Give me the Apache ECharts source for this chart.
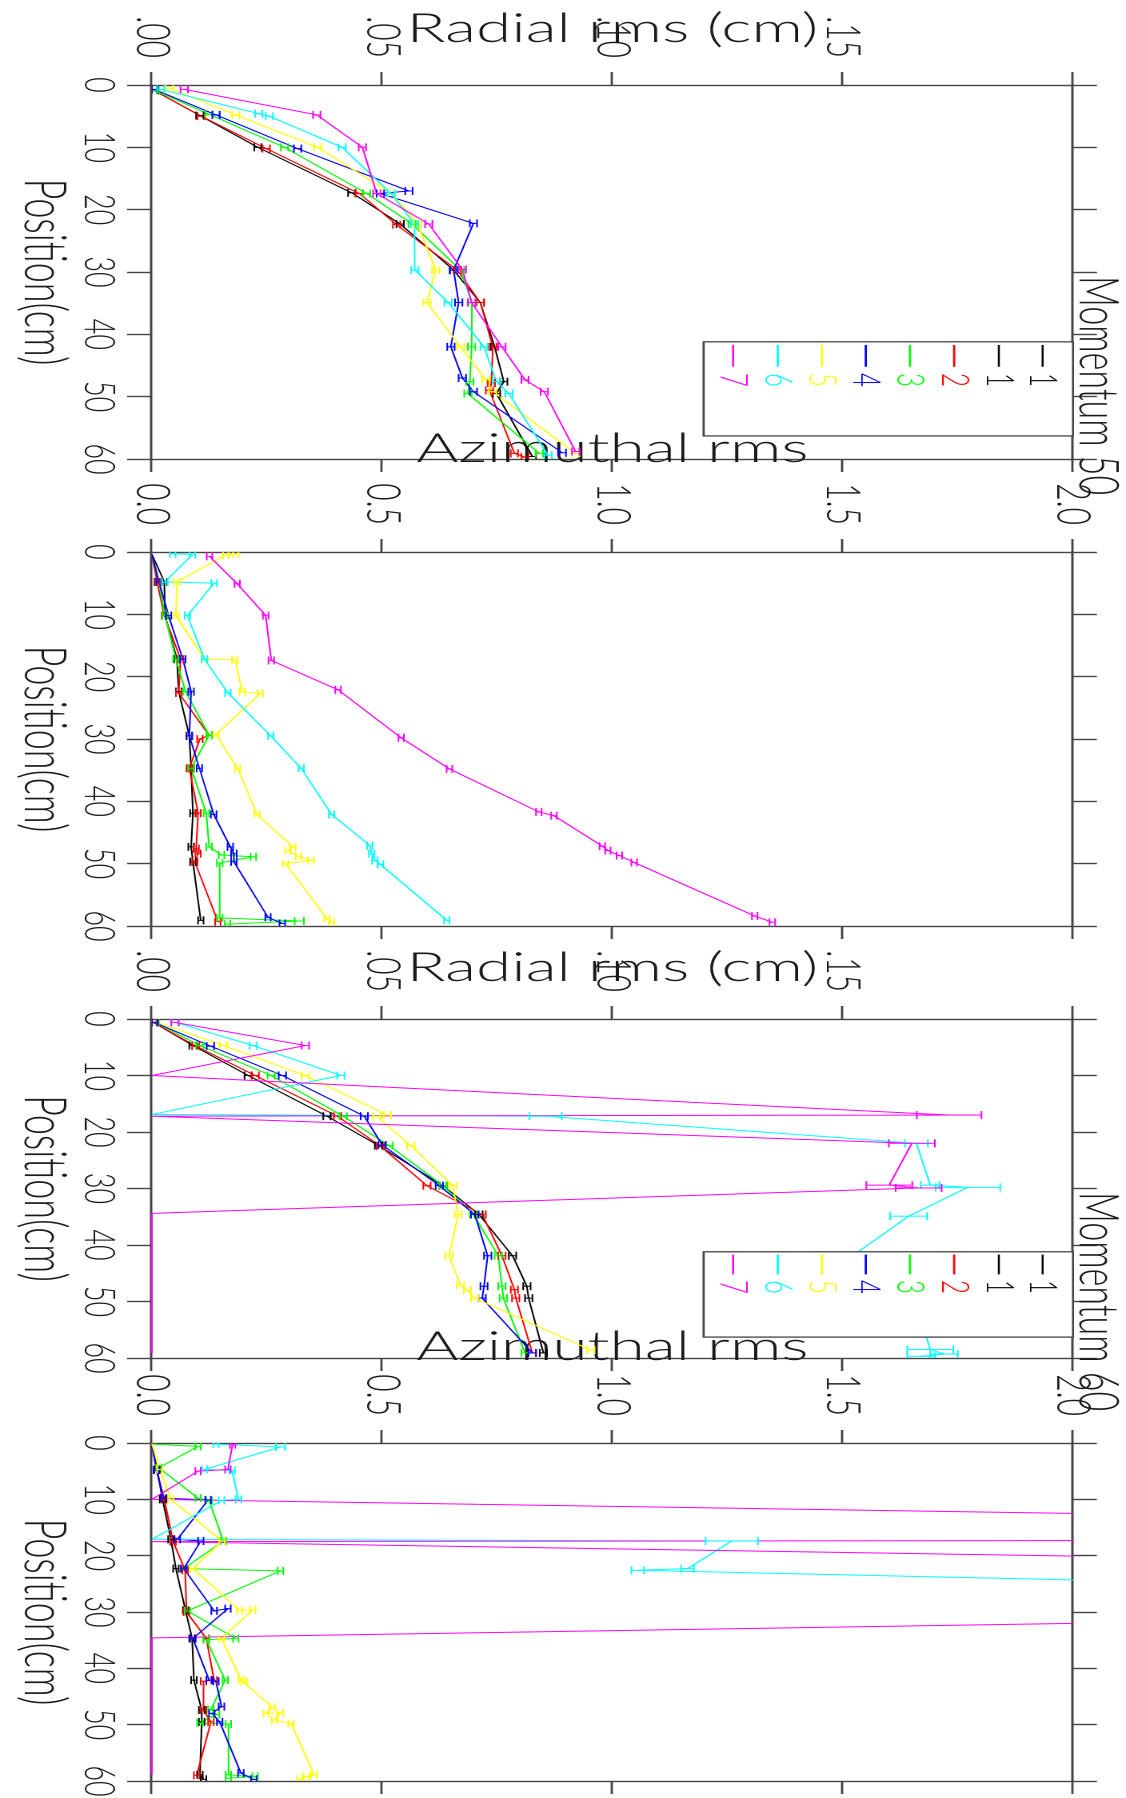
<!DOCTYPE html>
<html><head><meta charset="utf-8">
<script src="https://cdn.jsdelivr.net/npm/echarts@6/dist/echarts.min.js"></script>
<style>
html,body{margin:0;padding:0;width:1126px;height:1798px;overflow:hidden;background:#fff;}
#chart{position:absolute;left:0;top:0;width:1798px;height:704px;transform-origin:0 0;transform:translate(1126px,0) rotate(90deg) scale(1,1.59943);}
</style></head><body><div id="chart"></div>
<script>
// ---------------- labels / categories ----------------
const seriesNames = ['1', '2', '3', '4', '5', '6', '7'];
const seriesColors = ['#000000', '#ff0000', '#00ff00', '#0000ff', '#ffff00', '#00ffff', '#ff00ff'];
const legendLabels = ['1', '1', '2', '3', '4', '5', '6', '7'];
const legendColors = ['#000000', '#000000', '#ff0000', '#00ff00', '#0000ff', '#ffff00', '#00ffff', '#ff00ff'];
const positionTicks = [0, 10, 20, 30, 40, 50, 60];
const rmsTickLabelsRadial = ['.00', '.05', '.10', '.15', ''];
const rmsTickLabelsAzimuthal = ['0.0', '0.5', '1.0', '1.5', '2.0'];
const panelTitles = ['Radial rms (cm)', 'Azimuthal rms', 'Radial rms (cm)', 'Azimuthal rms'];
const momentumTitles = ['Momentum 50', 'Momentum 60'];
const positionTitle = 'Position(cm)';

// ---------------- data: [position (cm), rms, error] ----------------
// Panel 1: Radial rms, momentum 50
const rad50_1 = [[0.8,0.003],[4.9,0.104],[10,0.23],[17.3,0.434],[22.3,0.539],[29.7,0.655],[34.9,0.713],[42,0.744],[47.6,0.764],[49.5,0.748],[59.6,0.826]];
const rad50_2 = [[0.9,0.005],[5,0.107],[10.2,0.248],[17.4,0.45],[22.4,0.531],[29.7,0.663],[34.9,0.713],[42,0.74],[47.8,0.737],[49,0.733],[59.1,0.787],[59.7,0.81]];
const rad50_3 = [[0.9,0.007],[4.7,0.124],[10,0.288],[17.4,0.466],[22.3,0.565],[29.7,0.67],[34.9,0.695],[42,0.694],[47.6,0.69],[49.5,0.686],[59.1,0.841]];
const rad50_4 = [[0.7,0.005],[4.8,0.139],[10.2,0.316],[17,0.558],[17.4,0.496],[22.2,0.698],[29.7,0.655],[34.9,0.666],[42,0.649],[47,0.674],[49.2,0.698],[59,0.891]];
const rad50_5 = [[0.5,0.038],[4.8,0.182],[10,0.36],[17.4,0.52],[22.3,0.577],[29.7,0.616],[34.9,0.597],[42,0.67],[47.3,0.725],[49.2,0.74],[59.1,0.92]];
const rad50_6 = [[0.7,0.019],[4.6,0.232],[5,0.255],[10,0.413],[17.4,0.519],[22.3,0.57],[29.7,0.571],[34.9,0.643],[42,0.721],[47.6,0.748],[49.5,0.775],[59.4,0.86]];
const rad50_7 = [[0.7,0.07],[4.8,0.358],[10,0.457],[17.4,0.488],[22.3,0.601],[29.6,0.674],[34.9,0.694],[42,0.76],[47.3,0.81],[49.2,0.852],[58.8,0.92]];
// Panel 2: Azimuthal rms, momentum 50
const azi50_1 = [[0.4,0],[4.8,0.027],[10.2,0.028],[17.2,0.054],[22.4,0.058],[29.5,0.081],[34.7,0.085],[41.9,0.089],[47.3,0.085],[49.7,0.089],[59.1,0.106]];
const azi50_2 = [[0.4,0],[4.8,0.011],[10.2,0.027],[17.2,0.062],[22.6,0.058],[29.4,0.124],[30,0.104],[34.7,0.081],[41.9,0.1],[47.6,0.096],[48.4,0.1],[49.7,0.093],[59.3,0.143]];
const azi50_3 = [[0.4,0],[4.8,0.015],[10.2,0.028],[17.2,0.052],[22.4,0.073],[29.4,0.124],[34.7,0.085],[41.9,0.118],[47.3,0.124],[48.6,0.151],[48.9,0.22],[49.9,0.147],[58.7,0.147],[59.2,0.32,0.01],[59.7,0.164]];
const azi50_4 = [[0.4,0],[4.8,0.015],[10.2,0.036],[17.2,0.067],[22.4,0.085],[29.5,0.081],[34.7,0.103],[42.1,0.134],[47.3,0.17],[48.4,0.178],[49.7,0.178],[58.6,0.252],[59.6,0.283]];
const azi50_5 = [[0.3,0.182],[0.5,0.16],[4.8,0.054],[10.2,0.052],[17.2,0.114],[17.3,0.18],[22.4,0.196],[22.7,0.235],[29.3,0.139],[34.7,0.186],[42.1,0.228],[47.3,0.306],[47.9,0.295],[48.8,0.318],[49.5,0.345],[50,0.29],[58.8,0.38],[59.4,0.39]];
const azi50_6 = [[0.3,0.045],[0.4,0.088],[4.8,0.028],[5,0.135],[10.2,0.077],[17.2,0.114],[22.6,0.165],[29.5,0.258],[34.7,0.324],[42.1,0.39],[47.1,0.473],[48.4,0.477],[49.5,0.484],[50.1,0.496],[59.1,0.64]];
const azi50_7 = [[0.7,0.125],[5.1,0.185],[10.2,0.247],[17.4,0.259],[22.1,0.404],[29.8,0.541],[34.8,0.646],[41.7,0.84],[42.3,0.873],[47.2,0.978],[47.9,0.99],[48.7,1.015],[49.8,1.047],[58.4,1.309],[59.4,1.347]];
// Panel 3: Radial rms, momentum 60
const rad60_1 = [[0.6,0.003],[4.7,0.089],[10,0.209],[17.2,0.38],[22.4,0.492],[29.5,0.632],[34.6,0.71],[41.9,0.783],[47.3,0.814],[49.4,0.818],[59.1,0.85]];
const rad60_2 = [[0.6,0.003],[4.8,0.095],[10,0.224],[17.2,0.403],[22.5,0.496],[29.5,0.597],[34.6,0.717],[41.9,0.76],[47.9,0.787],[49.4,0.79],[59.1,0.826]];
const rad60_3 = [[0.6,0.007],[4.7,0.104],[10,0.259],[17.2,0.415],[22.4,0.515],[29.5,0.632],[34.6,0.698],[41.9,0.752],[47.3,0.76],[49.4,0.763],[59.1,0.81]];
const rad60_4 = [[0.6,0.005],[4.8,0.127],[10,0.283],[17.2,0.461],[22.3,0.5],[29.5,0.624],[34.6,0.701],[41.9,0.729],[47.3,0.721],[49.4,0.717],[59.1,0.826]];
const rad60_5 = [[0.3,0],[4.7,0.155],[10,0.333],[17,0.511],[17.2,0.488],[22.4,0.562],[29.5,0.653],[34.6,0.665],[41.9,0.645],[47.1,0.67],[48,0.685],[49.4,0.701],[58.6,0.953]];
const rad60_6 = [[0.6,0.05],[4.7,0.22],[10,0.41],[16.9,0],[17.2,0.855,0.035],[22,1.66,0.025],[29.4,1.69,0.02],[29.8,1.772,0.07],[34.9,1.643,0.04],[42,1.52],[47.5,1.58],[49,1.62],[50.5,1.66],[58.5,1.69,0.05],[59.3,1.72,0.03],[59.7,1.67,0.03]];
const rad60_7 = [[0.6,0.05],[4.7,0.333],[10,0],[17,1.731,0.07],[17.2,0],[22,1.65,0.05],[29.4,1.601,0.05],[29.9,1.665,0.05],[34.4,0],[41.9,0],[47.3,0],[49.4,0],[59.1,0]];
// Panel 4: Azimuthal rms, momentum 60
const azi60_1 = [[0.4,0],[4.7,0.011],[10,0.023],[17.1,0.041],[22.3,0.052],[29.7,0.073],[34.7,0.087],[42.1,0.091],[47.4,0.108],[49.5,0.108],[58.9,0.104],[59.7,0.112]];
const azi60_2 = [[0.2,0],[4.8,0.01],[10,0.027],[17.5,0.046],[22.6,0.072],[30,0.075],[34.7,0.118],[42.1,0.135],[42.3,0.112],[47.4,0.112],[49.5,0.128],[59,0.097]];
const azi60_3 = [[0.2,0],[0.6,0.1],[4.4,0.015],[9.8,0.1],[10.2,0.124],[17.4,0.155],[22.3,0.069],[22.7,0.279],[29.8,0.077],[34.7,0.182],[34.9,0.118],[42.1,0.159],[47.3,0.128],[48.2,0.14],[49.7,0.104],[49.9,0.166],[58.9,0.166],[59.2,0.224],[59.5,0.166]];
const azi60_4 = [[0.2,0],[4.8,0.01],[9.8,0.025],[10.1,0.122],[17.1,0.055],[17.4,0.106],[22.3,0.069],[29.8,0.135],[29.4,0.165],[34.7,0.089],[42.1,0.124],[42.3,0.139],[46.8,0.151],[48,0.13],[49.5,0.147],[58.6,0.193],[59.7,0.221]];
const azi60_5 = [[0.1,0],[4.7,0.017],[10,0.041],[17.4,0.152],[22.3,0.089],[29.7,0.19],[29.6,0.219],[34.7,0.151],[42.1,0.194],[42.4,0.2],[46.9,0.261],[48,0.248],[47.9,0.279],[49.2,0.266],[49.8,0.302],[58.9,0.352],[59.2,0.335],[59.7,0.321]];
const azi60_6 = [[0.2,0.139],[0.7,0.279,0.01],[4.7,0.114],[4.9,0.174],[10,0.188],[10.2,0.151],[17.1,0],[17.4,1.259,0.057],[22.3,1.163,0.014],[22.6,1.055,0.014],[29.7,5.0]];
const azi60_7 = [[0.3,0.175],[4.7,0.165],[5,0.1],[10,0],[17,5.6],[17.5,0],[22,3.5],[29.7,3.8],[34.6,0],[42.1,0],[47.4,0],[49.5,0],[58.9,0]];

const panels = [
  [rad50_1, rad50_2, rad50_3, rad50_4, rad50_5, rad50_6, rad50_7],
  [azi50_1, azi50_2, azi50_3, azi50_4, azi50_5, azi50_6, azi50_7],
  [rad60_1, rad60_2, rad60_3, rad60_4, rad60_5, rad60_6, rad60_7],
  [azi60_1, azi60_2, azi60_3, azi60_4, azi60_5, azi60_6, azi60_7]
];
const panelTickLabels = [rmsTickLabelsRadial, rmsTickLabelsAzimuthal, rmsTickLabelsRadial, rmsTickLabelsAzimuthal];
const DEFAULT_ERR = [0.008, 0.006, 0.008, 0.006];

// ---------------- layout (pre-rotation frame) ----------------
const gridBoxes = [
  {left: 85, width: 374}, {left: 552, width: 374},
  {left: 1019, width: 339}, {left: 1443, width: 338}
];
const nameGaps = [36, 83, 31, 76];
const FONT = 'Lato';
const AX = '#444';
const TXT = '#1a1a1a';

const chart = echarts.init(document.getElementById('chart'), null, {renderer: 'canvas', devicePixelRatio: 2});

const grid = [], xAxis = [], yAxis = [], series = [];
gridBoxes.forEach((g, i) => {
  grid.push({left: g.left, width: g.width, top: 33.14, bottom: 95.03, containLabel: false, outerBoundsMode: 'none'});
  const axLine = {show: true, onZero: false, lineStyle: {color: AX, width: 1.4}};
  xAxis.push({
    gridIndex: i, type: 'value', min: 0, max: 60, interval: 10, position: 'bottom',
    axisLine: axLine, axisTick: {show: true, inside: false, length: 15.5, lineStyle: {color: AX, width: 1.4}},
    axisLabel: {show: true, margin: 20, fontSize: 27, fontFamily: FONT, fontWeight: 300, color: TXT,
      formatter: v => String(positionTicks[Math.round(v / 10)])},
    splitLine: {show: false},
    name: positionTitle, nameLocation: 'middle', nameGap: 50, nameMoveOverlap: false,
    nameTextStyle: {fontSize: 36, fontFamily: FONT, fontWeight: 300, color: TXT}
  });
  xAxis.push({
    gridIndex: i, type: 'value', min: 0, max: 60, interval: 10, position: 'top',
    axisLine: axLine, axisTick: {show: true, inside: false, length: 15, lineStyle: {color: AX, width: 1.4}},
    axisLabel: {show: false}, splitLine: {show: false}
  });
  const labels = panelTickLabels[i];
  yAxis.push({
    gridIndex: i, type: 'value', min: 0, max: 2, interval: 0.5, position: 'left',
    axisLine: axLine, axisTick: {show: true, inside: false, length: 13, lineStyle: {color: AX, width: 1.4}},
    axisLabel: {show: true, margin: 27, fontSize: 30, fontFamily: FONT, fontWeight: 300, color: TXT,
      formatter: v => labels[Math.round(v / 0.5)]},
    splitLine: {show: false},
    name: panelTitles[i], nameLocation: 'middle', nameRotate: 90, nameGap: nameGaps[i], nameMoveOverlap: false,
    nameTextStyle: {fontSize: 40, fontFamily: FONT, fontWeight: 300, color: TXT}
  });
  yAxis.push({
    gridIndex: i, type: 'value', min: 0, max: 2, interval: 0.5, position: 'right',
    axisLine: axLine, axisTick: {show: true, inside: false, length: 13, lineStyle: {color: AX, width: 1.4}},
    axisLabel: {show: false}, splitLine: {show: false}
  });
  panels[i].forEach((arr, s) => {
    const color = seriesColors[s];
    series.push({
      type: 'line', name: seriesNames[s], xAxisIndex: 2 * i, yAxisIndex: 2 * i,
      data: arr.map(d => [d[0], d[1]]), showSymbol: false, symbol: 'none', clip: true,
      lineStyle: {width: 1, color: color}, itemStyle: {color: color}, animation: false, z: 2
    });
    series.push({
      type: 'custom', name: seriesNames[s] + ' err', xAxisIndex: 2 * i, yAxisIndex: 2 * i,
      data: arr.map(d => [d[0], d[1], d.length > 2 ? d[2] : DEFAULT_ERR[i]]),
      encode: {x: 0, y: 1}, clip: true, animation: false, z: 3,
      itemStyle: {color: color},
      renderItem: function (params, api) {
        const x = api.value(0), y = api.value(1), e = api.value(2);
        if (y > 2 || y <= 0) return null;
        const c = api.coord([x, y]);
        const lo = api.coord([x, Math.max(0, y - e)]);
        const hi = api.coord([x, Math.min(2, y + e)]);
        const hw = 4;
        const st = {stroke: color, lineWidth: 1};
        return {type: 'group', children: [
          {type: 'line', shape: {x1: c[0], y1: lo[1], x2: c[0], y2: hi[1]}, style: st},
          {type: 'line', shape: {x1: c[0] - hw, y1: lo[1], x2: c[0] + hw, y2: lo[1]}, style: st},
          {type: 'line', shape: {x1: c[0] - hw, y1: hi[1], x2: c[0] + hw, y2: hi[1]}, style: st}
        ]};
      }
    });
  });
});

chart.setOption({backgroundColor: '#ffffff', animation: false, grid, xAxis, yAxis, series});

// ---------------- legend boxes and momentum titles ----------------
const graphic = [];
const legendPanels = [0, 2];
const legendRowRms = [1.934, 1.839, 1.742, 1.646, 1.55, 1.455, 1.359, 1.262];
legendPanels.forEach((pi, k) => {
  const a = chart.convertToPixel({gridIndex: pi}, [41.2, 2.0]);
  const b = chart.convertToPixel({gridIndex: pi}, [56.3, 1.198]);
  graphic.push({type: 'rect', z: 100, shape: {x: a[0], y: a[1], width: b[0] - a[0], height: b[1] - a[1]},
    style: {fill: '#ffffff', stroke: AX, lineWidth: 1.3}});
  legendLabels.forEach((lab, j) => {
    const l0 = chart.convertToPixel({gridIndex: pi}, [41.7, legendRowRms[j]]);
    const l1 = chart.convertToPixel({gridIndex: pi}, [45.2, legendRowRms[j]]);
    const t = chart.convertToPixel({gridIndex: pi}, [46.2, legendRowRms[j]]);
    graphic.push({type: 'line', z: 101, shape: {x1: l0[0], y1: l0[1], x2: l1[0], y2: l1[1]},
      style: {stroke: legendColors[j], lineWidth: 1.3}});
    graphic.push({type: 'text', z: 101, x: t[0], y: t[1],
      style: {text: lab, fill: legendColors[j], font: '300 24px ' + FONT, textAlign: 'left', textVerticalAlign: 'middle'}});
  });
  const m = chart.convertToPixel({gridIndex: pi}, [0, 2.0]);
  graphic.push({type: 'text', z: 101, x: m[0] + (k === 0 ? 191 : 173), y: 18,
    style: {text: momentumTitles[k], fill: TXT, font: '300 34px ' + FONT, textAlign: 'left', textVerticalAlign: 'middle'}});
});
chart.setOption({graphic: graphic});
</script></body></html>
